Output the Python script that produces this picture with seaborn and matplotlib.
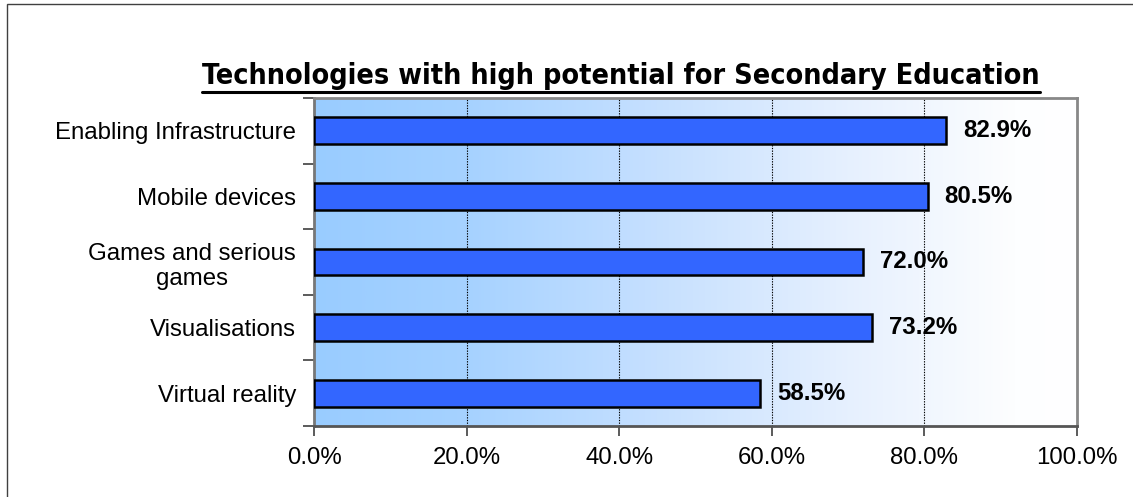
import numpy as np
import pandas as pd
import matplotlib
matplotlib.use("Agg")
import matplotlib.pyplot as plt
from matplotlib.colors import LinearSegmentedColormap
from matplotlib.patches import Rectangle
from matplotlib.lines import Line2D
import seaborn as sns

categories = ["Enabling Infrastructure", "Mobile devices", "Games and serious\ngames",
              "Visualisations", "Virtual reality"]
shares = [82.9, 80.5, 72.0, 73.2, 58.5]
value_labels = ["82.9%", "80.5%", "72.0%", "73.2%", "58.5%"]
x_ticks = [0, 20, 40, 60, 80, 100]
x_tick_labels = ["0.0%", "20.0%", "40.0%", "60.0%", "80.0%", "100.0%"]
title = "Technologies with high potential for Secondary Education"

df = pd.DataFrame({"category": categories, "share": shares})

sns.set_theme(style="white")
plt.rcParams["font.family"] = ["Liberation Sans", "DejaVu Sans"]
plt.rcParams["text.color"] = "black"
plt.rcParams["xtick.color"] = "black"
plt.rcParams["ytick.color"] = "black"

FS = 17.3
W, H = 1133, 497
fig = plt.figure(figsize=(W / 100, H / 100), dpi=100)
ax = fig.add_axes([314.3 / W, 1 - 426 / H, (1076.7 - 314.3) / W, (426 - 98) / H])

# outer chart border
fig.patches.append(Rectangle((7 / W, -0.1), 1.2, 1 - 4 / H + 0.1, transform=fig.transFigure,
                             fill=False, edgecolor="#404040", linewidth=1.0, zorder=0))

# plot-area gradient: light blue on the left fading to white
grad = np.linspace(0, 1, 512).reshape(1, -1)
cmap = LinearSegmentedColormap.from_list(
    "bg", [(0, "#99CCFF"), (0.2, "#A6D2FF"), (0.45, "#C6E0FF"), (0.7, "#E6F0FE"), (0.92, "#FDFEFF"), (1, "#FFFFFF")])
ax.imshow(grad, extent=[0, 100, 4.5, -0.5], aspect="auto", cmap=cmap, zorder=0)

sns.barplot(data=df, x="share", y="category", orient="h", color="#3366FF", saturation=1,
            width=0.41, edgecolor="black", linewidth=1.8, ax=ax, zorder=3)

ax.set_xlim(0, 100)
ax.set_ylim(4.5, -0.5)
ax.set_xlabel("")
ax.set_ylabel("")

for x in x_ticks[1:-1]:
    ax.axvline(x, color="black", linestyle=(0, (1.2, 1.2)), linewidth=0.8, zorder=1)

ax.set_xticks(x_ticks)
ax.set_xticklabels(x_tick_labels, fontsize=FS)
ax.set_yticks(range(len(categories)))
ax.set_yticklabels(categories, fontsize=FS, multialignment="center")
ax.tick_params(axis="y", length=0, pad=13)
ax.tick_params(axis="x", length=7, width=1.2, color="#404040", direction="out", pad=8,
               bottom=True)

# tick marks at category boundaries on the value axis
ax.set_yticks(np.arange(-0.5, len(categories), 1), minor=True)
ax.tick_params(axis="y", which="minor", length=8, width=1.2, color="#404040", left=True)

for side in ["top", "right", "left", "bottom"]:
    ax.spines[side].set_visible(True)
    ax.spines[side].set_color("#888888")
    ax.spines[side].set_linewidth(2)
ax.spines["left"].set_color("#777777")
ax.spines["bottom"].set_color("#555555")

for i, (v, lab) in enumerate(zip(shares, value_labels)):
    ax.annotate(lab, xy=(v, i), xytext=(12, 0), textcoords="offset points",
                ha="left", va="center", fontsize=FS, fontweight="bold", zorder=5)

t = fig.text(621 / W, 1 - 76 / H, title, ha="center", va="center", fontsize=20.6,
             fontweight="bold", family=["DejaVu Sans"], fontstretch="condensed")
fig.canvas.draw()
bb = t.get_window_extent().transformed(fig.transFigure.inverted())
uy = bb.y0 - 2 / H
fig.lines.append(Line2D([bb.x0, bb.x1], [uy, uy], transform=fig.transFigure,
                        color="black", linewidth=2.2))

fig.savefig("out.png", dpi=100)
